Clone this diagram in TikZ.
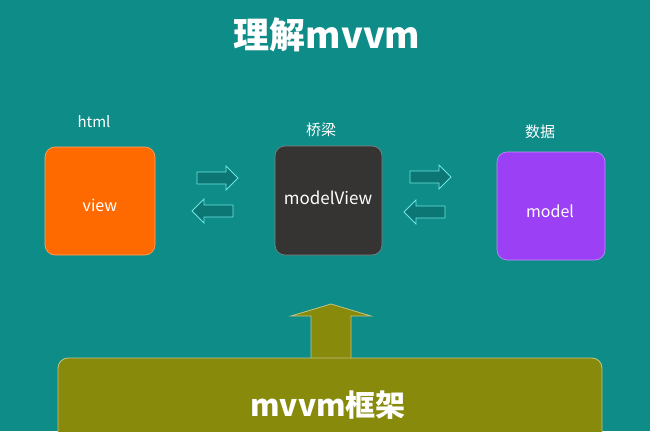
\documentclass[tikz,border=0pt]{standalone}
\usepackage{fontspec}
\setmainfont{Noto Sans CJK SC}
\begin{document}
\begin{tikzpicture}[x=1pt,y=-1pt,
  box/.style={rounded corners=10pt,draw=#1!60!white,line width=0.6pt,fill=#1},
  lbl/.style={text=white,font=\fontsize{16}{19}\selectfont},
  barr/.style={fill=arrowfill,draw=arrowline,line width=0.8pt}]
\definecolor{bg}{HTML}{0E8C88}
\definecolor{arrowfill}{HTML}{0B7674}
\definecolor{arrowline}{HTML}{6CE6E2}
\definecolor{orangebox}{HTML}{FF6A00}
\definecolor{darkbox}{HTML}{363333}
\definecolor{purplebox}{HTML}{9C40F5}
\definecolor{olive}{HTML}{878A0A}
\fill[bg] (0,0) rectangle (650,431);
\useasboundingbox (0,0) rectangle (650,431);
\node[text=white,font=\bfseries\fontsize{36}{42}\selectfont] (title) at (327,35) {理解mvvm};
\draw[box=orangebox] (45,147) rectangle (155,255);
\node[lbl] (view) at (100,205) {view};
\draw[box=darkbox] (275,146) rectangle (382,255);
\node[lbl,font=\fontsize{17}{20}\selectfont] (mv) at (328,198) {modelView};
\draw[box=purplebox] (497,152) rectangle (605,260);
\node[lbl] (model) at (550,211) {model};
\node[lbl,font=\fontsize{15}{18}\selectfont] (html) at (94,122) {html};
\node[lbl,font=\fontsize{15}{18}\selectfont] (qiao) at (321,130) {桥梁};
\node[lbl,font=\fontsize{15}{18}\selectfont] (shu) at (540,132) {数据};
% right arrows
\foreach \x/\y in {197/178, 410/177}{
 \draw[barr] (\x,\y-6) -- (\x+29,\y-6) -- (\x+29,\y-12) -- (\x+41,\y) -- (\x+29,\y+12) -- (\x+29,\y+6) -- (\x,\y+6) -- cycle;}
% left arrows
\foreach \x/\y in {233/211, 445/212}{
 \draw[barr] (\x,\y-6) -- (\x-29,\y-6) -- (\x-29,\y-12) -- (\x-41,\y) -- (\x-29,\y+12) -- (\x-29,\y+6) -- (\x,\y+6) -- cycle;}
% up arrow
\draw[fill=olive,draw=olive!50!white,line width=0.8pt] (311,360) -- (311,316) -- (291,316) -- (331,304) -- (371,316) -- (351,316) -- (351,360) -- cycle;
\draw[fill=olive,draw=olive!50!white,line width=0.8pt,rounded corners=10pt] (58,358) rectangle (602,445);
\node[text=white,font=\bfseries\fontsize{30}{36}\selectfont] (fw) at (328,405) {mvvm框架};
\end{tikzpicture}
\end{document}
